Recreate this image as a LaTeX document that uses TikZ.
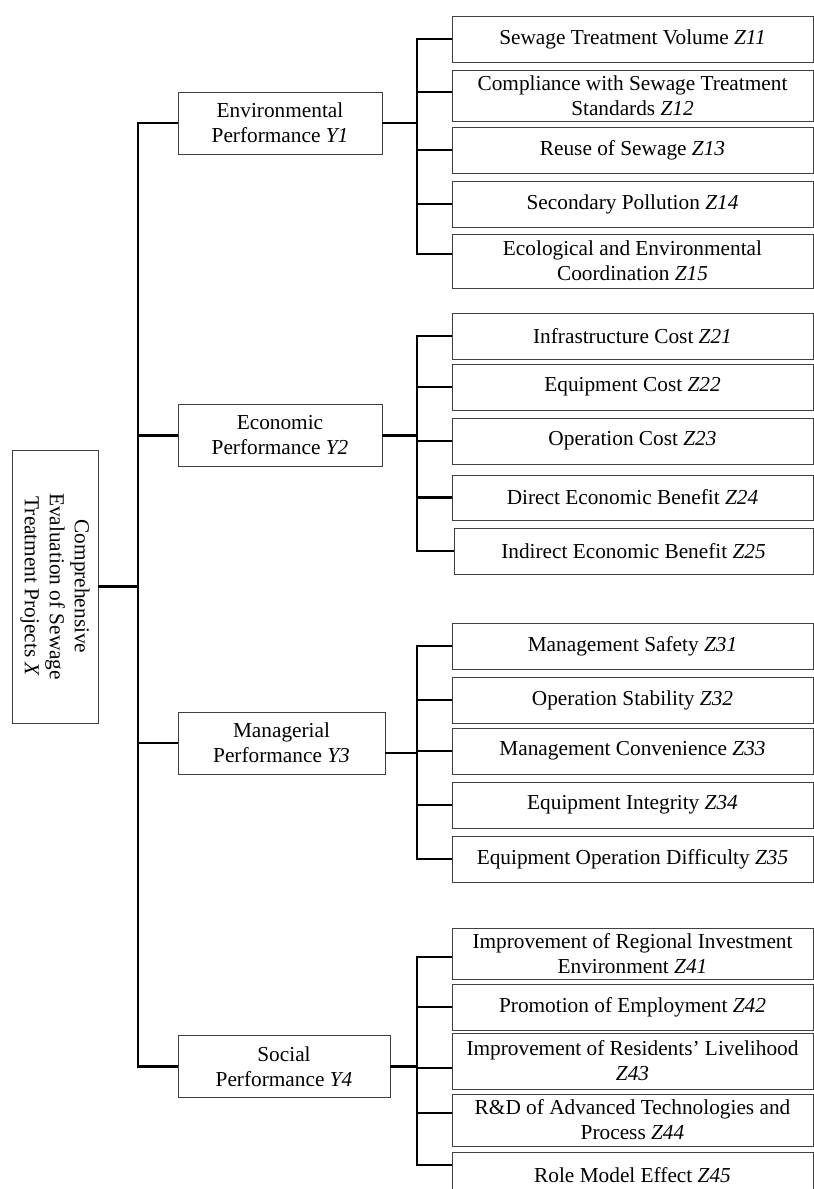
\documentclass[tikz,border=0pt]{standalone}
\usepackage{fontspec}
\setmainfont{Liberation Serif}

\begin{document}
\begin{tikzpicture}[
    x=1pt, y=-1pt,
    every node/.style={font=\fontsize{21.3}{25}\selectfont},
    box/.style={rectangle, draw=black!75, line width=0.9pt, inner sep=0pt, align=center},
    ybox/.style={box, minimum height=62pt},
    zbox/.style={box, minimum width=361pt, minimum height=46pt},
    conn/.style={line width=2.4pt}
]

\clip (0,0) rectangle (814,1189);

% Goal
\node[box, rotate=-90, minimum width=273pt, minimum height=86pt] (root) at (55,586.5)
    {Comprehensive\\Evaluation of Sewage\\Treatment Projects \textit{X}};

% Criteria
\node[ybox, minimum width=204pt] (y1) at (280,123) {Environmental\\Performance \textit{Y1}};
\node[ybox, minimum width=204pt] (y2) at (280,435.5) {Economic\\Performance \textit{Y2}};
\node[ybox, minimum width=207pt] (y3) at (281.5,743) {Managerial\\Performance \textit{Y3}};
\node[ybox, minimum width=212pt] (y4) at (284,1066.5) {Social\\Performance \textit{Y4}};

% Indicators Y1
\node[zbox] (z11) at (632.5,39) {Sewage Treatment Volume \textit{Z11}};
\node[zbox, minimum height=51pt] (z12) at (632.5,95.5) {Compliance with Sewage Treatment\\Standards \textit{Z12}};
\node[zbox] (z13) at (632.5,150) {Reuse of Sewage \textit{Z13}};
\node[zbox] (z14) at (632.5,204) {Secondary Pollution \textit{Z14}};
\node[zbox, minimum height=54pt] (z15) at (632.5,261) {Ecological and Environmental\\Coordination \textit{Z15}};

% Indicators Y2
\node[zbox] (z21) at (632.5,336) {Infrastructure Cost \textit{Z21}};
\node[zbox] (z22) at (632.5,387) {Equipment Cost \textit{Z22}};
\node[zbox] (z23) at (632.5,441) {Operation Cost \textit{Z23}};
\node[zbox, minimum height=45pt] (z24) at (632.5,497.5) {Direct Economic Benefit \textit{Z24}};
\node[zbox, minimum width=359pt] (z25) at (633.5,551) {Indirect Economic Benefit \textit{Z25}};

% Indicators Y3
\node[zbox] (z31) at (632.5,646) {Management Safety \textit{Z31}};
\node[zbox] (z32) at (632.5,700) {Operation Stability \textit{Z32}};
\node[zbox] (z33) at (632.5,751) {Management Convenience \textit{Z33}};
\node[zbox] (z34) at (632.5,805) {Equipment Integrity \textit{Z34}};
\node[zbox] (z35) at (632.5,859) {Equipment Operation Difficulty \textit{Z35}};

% Indicators Y4
\node[zbox, minimum height=51pt] (z41) at (632.5,953.5) {Improvement of Regional Investment\\Environment \textit{Z41}};
\node[zbox] (z42) at (632.5,1007) {Promotion of Employment \textit{Z42}};
\node[zbox, minimum height=56pt] (z43) at (632.5,1061) {Improvement of Residents’ Livelihood\\\textit{Z43}};
\node[zbox, minimum height=52pt] (z44) at (632.5,1120) {R\&D of Advanced Technologies and\\Process \textit{Z44}};
\node[zbox] (z45) at (632.5,1175) {Role Model Effect \textit{Z45}};

% Trunk and forks
\coordinate (trunk) at (138,0);
\coordinate (fork) at (417,0);

\draw[conn] (root.north) -- (root.north -| trunk);
\draw[conn] (y1.west) -| (trunk |- y4.west) -- (y4.west);
\draw[conn] (trunk |- y2.west) -- (y2.west);
\draw[conn] (trunk |- y3.west) -- (y3.west);

% Fork Y1
\draw[conn] (y1.east) -- (y1.east -| fork);
\draw[conn] (z11.west) -| (fork |- 0,254) -- ([yshift=7pt]z15.west);
\draw[conn] ([yshift=3.5pt]z12.west -| fork) -- ([yshift=3.5pt]z12.west);
\draw[conn] (fork |- z13.west) -- (z13.west);
\draw[conn] (fork |- z14.west) -- (z14.west);

% Fork Y2
\draw[conn] (y2.east) -- (y2.east -| fork);
\draw[conn] (z21.west) -| (fork |- z25.west) -- (z25.west);
\draw[conn] (fork |- z22.west) -- (z22.west);
\draw[conn] (fork |- z23.west) -- (z23.west);
\draw[conn] (fork |- z24.west) -- (z24.west);

% Fork Y3
\draw[conn] ([yshift=-10pt]y3.east) -- ([yshift=-10pt]y3.east -| fork);
\draw[conn] (z31.west) -| (fork |- z35.west) -- (z35.west);
\draw[conn] (fork |- z32.west) -- (z32.west);
\draw[conn] (fork |- z33.west) -- (z33.west);
\draw[conn] (fork |- z34.west) -- (z34.west);

% Fork Y4
\draw[conn] (y4.east) -- (y4.east -| fork);
\draw[conn] ([yshift=-3.5pt]z41.west) -| (fork |- 0,1165) -- ([yshift=10pt]z45.west);
\draw[conn] (fork |- z42.west) -- (z42.west);
\draw[conn] ([yshift=-7pt]z43.west -| fork) -- ([yshift=-7pt]z43.west);
\draw[conn] ([yshift=7pt]z44.west -| fork) -- ([yshift=7pt]z44.west);

\end{tikzpicture}
\end{document}
